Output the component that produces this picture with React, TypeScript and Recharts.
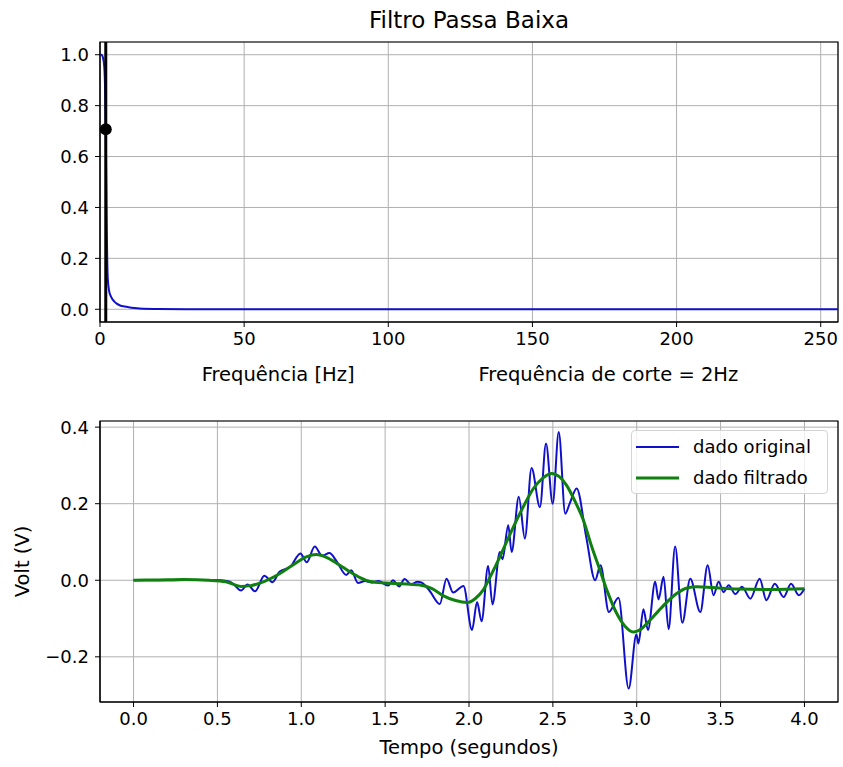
import React from 'react';
import {
  LineChart, Line, XAxis, YAxis, CartesianGrid, ReferenceLine, ReferenceDot,
  ReferenceArea, Legend, Label,
} from 'recharts';

const FONT = '"DejaVu Sans", sans-serif';
const FS = 18;
const LFS = 19.5;
const BLUE = '#1010cc';
const GREEN = '#108010';
const GRID = '#b0b0b0';

// ---------- Top plot: low-pass filter response ----------
const freqHz = [0, 0.5, 1, 1.5, 2, 2.3, 2.7, 3.2, 3.9, 5, 5.8, 7, 8.5, 10, 12, 15, 20, 30, 50, 100, 150, 200, 256];
const gain = [1.0, 1.0, 0.99, 0.95, 0.707, 0.36, 0.12, 0.07, 0.048, 0.03, 0.022, 0.015, 0.011, 0.008, 0.005, 0.002, 0.001, 0, 0, 0, 0, 0, 0];
const freqTicks = [0, 50, 100, 150, 200, 250];
const gainTicks = [0, 0.2, 0.4, 0.6, 0.8, 1.0];
const cutoffHz = 2;
const cutoffGain = 0.707;

// ---------- Bottom plot: original vs filtered signal ----------
const origT = [0.0, 0.2, 0.4, 0.52, 0.57, 0.6, 0.641, 0.68, 0.724, 0.78, 0.828, 0.87, 0.935, 0.995, 1.033, 1.08, 1.125, 1.168, 1.21, 1.268, 1.298, 1.338, 1.38, 1.42, 1.46, 1.518, 1.547, 1.583, 1.616, 1.656, 1.69, 1.716, 1.766, 1.826, 1.866, 1.905, 1.967, 2.018, 2.048, 2.075, 2.114, 2.14, 2.184, 2.2, 2.234, 2.254, 2.297, 2.333, 2.373, 2.423, 2.459, 2.499, 2.535, 2.574, 2.6, 2.642, 2.7, 2.752, 2.784, 2.834, 2.891, 2.952, 2.998, 3.01, 3.04, 3.067, 3.11, 3.13, 3.16, 3.19, 3.229, 3.272, 3.319, 3.379, 3.423, 3.458, 3.488, 3.518, 3.548, 3.588, 3.628, 3.677, 3.733, 3.773, 3.823, 3.876, 3.92, 3.966, 4.0];
const origV = [0, 0, 0.001, 0, -0.003, -0.012, -0.027, -0.011, -0.029, 0.012, -0.005, 0.022, 0.035, 0.07, 0.047, 0.088, 0.064, 0.071, 0.05, 0.014, 0.026, -0.007, -0.002, -0.006, -0.002, -0.014, 0.0, -0.016, 0.003, -0.011, -0.004, -0.006, -0.028, -0.062, 0.004, -0.032, -0.015, -0.13, -0.057, -0.107, 0.037, -0.063, 0.074, 0.055, 0.144, 0.074, 0.218, 0.109, 0.293, 0.191, 0.357, 0.2, 0.387, 0.174, 0.2, 0.24, 0.11, 0.0, 0.039, -0.083, -0.046, -0.283, -0.142, -0.165, -0.076, -0.13, -0.004, -0.05, 0.009, -0.128, 0.088, -0.111, 0.004, -0.083, 0.039, -0.039, -0.004, -0.031, -0.013, -0.036, -0.017, -0.048, 0.004, -0.052, -0.009, -0.044, -0.009, -0.039, -0.022];
const filtT = [0, 0.15, 0.3, 0.45, 0.55, 0.64, 0.7, 0.75, 0.87, 0.95, 1.03, 1.09, 1.15, 1.22, 1.29, 1.35, 1.41, 1.5, 1.6, 1.7, 1.78, 1.845, 1.92, 1.99, 2.04, 2.084, 2.13, 2.184, 2.234, 2.284, 2.333, 2.383, 2.44, 2.493, 2.54, 2.582, 2.63, 2.682, 2.73, 2.781, 2.83, 2.881, 2.93, 2.98, 3.03, 3.08, 3.13, 3.18, 3.24, 3.3, 3.36, 3.45, 3.6, 3.8, 4.0];
const filtV = [0, 0.001, 0.002, 0.0, -0.004, -0.016, -0.014, -0.008, 0.017, 0.04, 0.061, 0.067, 0.06, 0.042, 0.022, 0.007, -0.003, -0.007, -0.009, -0.012, -0.022, -0.04, -0.053, -0.058, -0.047, -0.026, 0.012, 0.061, 0.11, 0.157, 0.2, 0.239, 0.267, 0.279, 0.27, 0.248, 0.208, 0.157, 0.09, 0.026, -0.035, -0.087, -0.12, -0.135, -0.126, -0.104, -0.08, -0.057, -0.034, -0.02, -0.017, -0.019, -0.023, -0.024, -0.022];
const timeTicks = [0, 0.5, 1.0, 1.5, 2.0, 2.5, 3.0, 3.5, 4.0];
const voltTicks = [-0.2, 0, 0.2, 0.4];

const seriesNames = ['dado original', 'dado filtrado'];

const freqData = freqHz.map((f, i) => ({ x: f, y: gain[i] }));
const origData = origT.map((t, i) => ({ x: t, y: origV[i] }));
const filtData = filtT.map((t, i) => ({ x: t, y: filtV[i] }));

const fmt1 = (v: number) => (v < 0 ? '\u2212' : '') + Math.abs(v).toFixed(1);
const tickStyle = { fill: '#000', fontSize: FS, fontFamily: FONT };

const TopXLabel = (props: any) => {
  const vb = props.viewBox;
  const cx = vb.x + vb.width / 2 + 1;
  return (
    <text x={cx} y={vb.y + 52} textAnchor="middle" dominantBaseline="central"
      xmlSpace="preserve" style={{ whiteSpace: 'pre' }}
      fontFamily={FONT} fontSize={LFS} fill="#000">
      {'Frequência [Hz]                    Frequência de corte = 2Hz'}
    </text>
  );
};

const BottomXLabel = (props: any) => {
  const vb = props.viewBox;
  return (
    <text x={vb.x + vb.width / 2} y={vb.y + 45} textAnchor="middle" dominantBaseline="central"
      fontFamily={FONT} fontSize={LFS} fill="#000">Tempo (segundos)</text>
  );
};

const VoltLabel = (props: any) => {
  const vb = props.viewBox;
  const x = vb.x + 22;
  const y = vb.y + vb.height / 2;
  return (
    <text x={x} y={y} transform={`rotate(-90 ${x} ${y})`} textAnchor="middle" dominantBaseline="central"
      fontFamily={FONT} fontSize={LFS} fill="#000">Volt (V)</text>
  );
};

const LegendBox = () => (
  <div style={{
    boxSizing: 'border-box', width: 197, height: 64, border: '1px solid #d4d4d4', borderRadius: 4,
    background: 'rgba(255,255,255,0.8)', fontFamily: FONT, fontSize: FS, color: '#000', paddingTop: 0,
  }}>
    {seriesNames.map((name, i) => (
      <div key={name} style={{ display: 'flex', alignItems: 'center', height: 31, paddingLeft: 4 }}>
        <svg width={43} height={6} style={{ display: 'block', flexShrink: 0 }}>
          <line x1={0} x2={43} y1={3} y2={3} stroke={i === 0 ? BLUE : GREEN} strokeWidth={i === 0 ? 2 : 3} />
        </svg>
        <span style={{ marginLeft: 14, whiteSpace: 'nowrap' }}>{name}</span>
      </div>
    ))}
  </div>
);

export default function App() {
  return (
    <div style={{ position: 'absolute', left: 0, top: 0, width: 843, height: 767, background: '#fff' }}>
      <div style={{
        position: 'absolute', left: 100, width: 738, top: 5, textAlign: 'center',
        fontFamily: FONT, fontSize: 23, color: '#000', lineHeight: '30px',
      }}>Filtro Passa Baixa</div>

      <div style={{ position: 'absolute', left: 0, top: 0 }}>
        <LineChart width={843} height={400} margin={{ top: 42, right: 5, bottom: 48, left: 0 }}>
          <CartesianGrid stroke={GRID} strokeWidth={1} />
          <XAxis type="number" dataKey="x" domain={[0, 256]} ticks={freqTicks} allowDataOverflow
            interval={0} height={30} stroke="#000" tickSize={5} tickMargin={5} tick={tickStyle}>
            <Label content={TopXLabel} />
          </XAxis>
          <YAxis type="number" dataKey="y" domain={[-0.05, 1.05]} ticks={gainTicks} allowDataOverflow
            interval={0} width={100} stroke="#000" tickSize={5} tickMargin={6} tick={tickStyle}
            tickFormatter={fmt1} />
          <ReferenceArea x1={0} x2={256} y1={-0.05} y2={1.05} fill="none" fillOpacity={0}
            stroke="#000" strokeWidth={1.2} />
          <Line data={freqData} dataKey="y" type="monotone" stroke={BLUE} strokeWidth={2}
            dot={false} activeDot={false} isAnimationActive={false} />
          <ReferenceLine x={cutoffHz} stroke="#000" strokeWidth={3} />
          <ReferenceDot x={cutoffHz} y={cutoffGain} r={6} fill="#000" stroke="none" />
        </LineChart>
      </div>

      <div style={{ position: 'absolute', left: 0, top: 400 }}>
        <LineChart width={843} height={367} margin={{ top: 21, right: 5, bottom: 35, left: 0 }}>
          <CartesianGrid stroke={GRID} strokeWidth={1} />
          <XAxis type="number" dataKey="x" domain={[-0.2, 4.2]} ticks={timeTicks} allowDataOverflow
            interval={0} height={30} stroke="#000" tickSize={5} tickMargin={5} tick={tickStyle}
            tickFormatter={fmt1}>
            <Label content={BottomXLabel} />
          </XAxis>
          <YAxis type="number" dataKey="y" domain={[-0.318, 0.416]} ticks={voltTicks} allowDataOverflow
            interval={0} width={100} stroke="#000" tickSize={5} tickMargin={6} tick={tickStyle}
            tickFormatter={fmt1}>
            <Label content={VoltLabel} />
          </YAxis>
          <ReferenceArea x1={-0.2} x2={4.2} y1={-0.318} y2={0.416} fill="none" fillOpacity={0}
            stroke="#000" strokeWidth={1.2} />
          <Line data={origData} dataKey="y" name={seriesNames[0]} type="monotone" stroke={BLUE}
            strokeWidth={2} dot={false} activeDot={false} isAnimationActive={false} />
          <Line data={filtData} dataKey="y" name={seriesNames[1]} type="monotone" stroke={GREEN}
            strokeWidth={3} dot={false} activeDot={false} isAnimationActive={false} />
          <Legend layout="vertical" align="center" verticalAlign="middle" content={() => <LegendBox />}
            wrapperStyle={{ position: 'absolute', left: 631, top: 30, width: 197, height: 64, bottom: 'auto', right: 'auto' }} />
        </LineChart>
      </div>
    </div>
  );
}
